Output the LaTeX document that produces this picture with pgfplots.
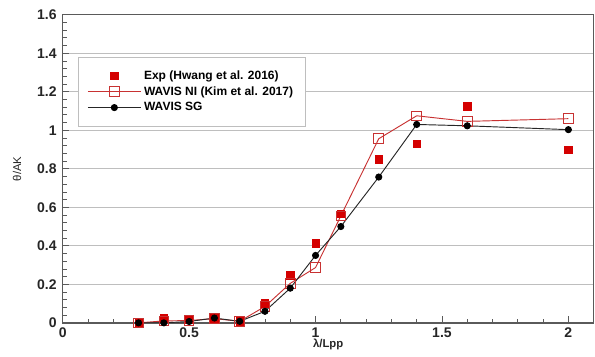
\documentclass[border=0pt]{standalone}
\usepackage{pgfplots}
\pgfplotsset{compat=1.18}
\usepackage{fontspec}
\setmainfont{Liberation Sans}
\definecolor{expred}{RGB}{212,0,0}
\definecolor{nired}{RGB}{200,50,50}
\definecolor{gridgray}{RGB}{190,190,190}
\definecolor{framegray}{RGB}{90,90,90}
\begin{document}
\begin{tikzpicture}
\begin{axis}[
  scale only axis,
  width=398pt, height=231pt,
  xmin=0, xmax=2.1, ymin=0, ymax=1.6,
  xtick={0,0.5,1,1.5,2},
  ytick={0,0.2,0.4,0.6,0.8,1,1.2,1.4,1.6},
  minor x tick num=4,
  minor y tick num=4,
  ymajorgrids,
  major grid style={gridgray, line width=0.8pt},
  tick align=inside,
  xtick pos=bottom, ytick pos=left,
  major tick length=5pt, minor tick length=3pt,
  tick style={framegray, line width=0.5pt},
  axis line style={framegray, line width=1pt},
  /pgf/number format/assume math mode=true,
  ticklabel style={font=\fontsize{10.5}{12}\selectfont\bfseries, text=black!85},
  yticklabel style={xshift=-1pt},
  xlabel={\textbf{λ/Lpp}},
  ylabel={θ/AK},
  label style={font=\fontsize{8.5}{10}\selectfont, text=black!85},
  xlabel style={yshift=6pt},
  ylabel style={yshift=5pt},
  legend style={at={(rel axis cs:0.028,0.864)}, anchor=north west,
    draw=gridgray, line width=0.6pt, fill=white,
    font=\fontsize{9}{10.5}\selectfont\bfseries,
    row sep=0pt, inner xsep=7pt, inner ysep=8pt,
    legend cell align=left},
  legend image code/.code={%
    \draw[mark repeat=2,mark phase=2,#1] plot coordinates {(0cm,0cm) (0.7cm,0cm) (1.4cm,0cm)};},
]
\coordinate (ll) at (rel axis cs:0,0);
\coordinate (ur) at (rel axis cs:1,1);
\addplot[only marks, mark=square*, mark size=2.8pt, mark options={fill=expred, draw=expred}] coordinates {
 (0.3,0.004) (0.4,0.024) (0.5,0.018) (0.6,0.024) (0.7,0.008) (0.8,0.102) (0.9,0.246)
 (1.0,0.414) (1.1,0.565) (1.25,0.85) (1.4,0.93) (1.6,1.124) (2.0,0.899)};
\addlegendentry{Exp (Hwang et al. 2016)}
\addplot[nired, line width=0.7pt, mark=square, mark size=3.6pt, mark options={draw=nired, fill=white, line width=0.7pt}] coordinates {
 (0.3,0.0) (0.4,0.01) (0.5,0.012) (0.6,0.022) (0.7,0.008) (0.8,0.085) (0.9,0.205)
 (1.0,0.287) (1.1,0.555) (1.25,0.956) (1.4,1.075) (1.6,1.046) (2.0,1.06)};
\addlegendentry{WAVIS NI (Kim et al. 2017)}
\addplot[black!85, line width=0.7pt, mark=*, mark size=2.3pt, mark options={fill=black, draw=black}] coordinates {
 (0.3,0.0) (0.4,0.0) (0.5,0.007) (0.6,0.025) (0.7,0.008) (0.8,0.06) (0.9,0.18)
 (1.0,0.35) (1.1,0.50) (1.25,0.757) (1.4,1.03) (1.6,1.023) (2.0,1.003)};
\addlegendentry{WAVIS SG}
\end{axis}
\pgfresetboundingbox
\path ([shift={(-47pt,-25pt)}]ll) rectangle ([shift={(1pt,11pt)}]ur);
\end{tikzpicture}
\end{document}
